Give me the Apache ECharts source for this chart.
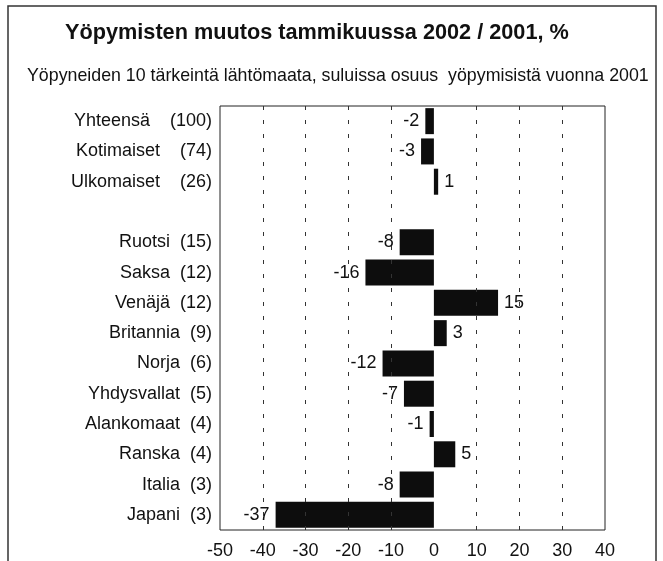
<!DOCTYPE html>
<html>
<head>
<meta charset="utf-8">
<script src="https://cdn.jsdelivr.net/npm/echarts@6/dist/echarts.min.js"></script>
<style>
html,body{margin:0;padding:0;background:#fff;}
#chart{width:663px;height:561px;}
</style>
</head>
<body>
<div id="chart"></div>
<script>
// Data
const titleText = 'Yöpymisten muutos tammikuussa 2002 / 2001, %';
const subtitleText = 'Yöpyneiden 10 tärkeintä lähtömaata, suluissa osuus  yöpymisistä vuonna 2001';
const names  = ['Yhteensä', 'Kotimaiset', 'Ulkomaiset', '', 'Ruotsi', 'Saksa', 'Venäjä', 'Britannia', 'Norja', 'Yhdysvallat', 'Alankomaat', 'Ranska', 'Italia', 'Japani'];
const shares = [100, 74, 26, null, 15, 12, 12, 9, 6, 5, 4, 4, 3, 3];
const values = [-2, -3, 1, null, -8, -16, 15, 3, -12, -7, -1, 5, -8, -37];
const xTicks = [-50, -40, -30, -20, -10, 0, 10, 20, 30, 40];
const gridLines = [-40, -30, -20, -10, 10, 20, 30];

const chart = echarts.init(document.getElementById('chart'), null, {renderer: 'canvas'});
const FONT = 'Liberation Sans, Arial, Helvetica, sans-serif';
const INK = '#111';

const categories = names.map((n, i) => i);
const seriesData = values.map(v => v === null ? '-' : {
  value: v,
  label: {position: v < 0 ? 'left' : 'right'}
});

chart.setOption({
  backgroundColor: '#fff',
  animation: false,
  title: [
    {text: titleText, left: 65, top: 22, padding: 0,
     textStyle: {fontFamily: FONT, fontSize: 21.7, fontWeight: 'bold', color: INK}},
    {text: subtitleText, left: 27, top: 67, padding: 0,
     textStyle: {fontFamily: FONT, fontSize: 17.8, fontWeight: 'normal', color: INK}}
  ],
  graphic: [
    {type: 'rect', shape: {x: 8, y: 6, width: 648, height: 600},
     style: {fill: 'none', stroke: '#333', lineWidth: 1.5}, silent: true, z: 100}
  ],
  grid: {left: 220, right: 58, top: 106, bottom: 31, show: true,
         borderColor: '#222', borderWidth: 1, backgroundColor: 'transparent'},
  xAxis: {
    type: 'value', min: xTicks[0], max: xTicks[xTicks.length - 1], interval: 10,
    axisLine: {show: false}, axisTick: {show: false}, splitLine: {show: false},
    axisLabel: {fontFamily: FONT, fontSize: 18, color: INK, margin: 12,
                formatter: v => xTicks.includes(v) ? String(v) : ''}
  },
  yAxis: {
    type: 'category', inverse: true, data: categories,
    axisLine: {show: false}, axisTick: {show: false}, splitLine: {show: false},
    axisLabel: {
      fontFamily: FONT, fontSize: 18, color: INK, margin: 8,
      formatter: (v, i) => {
        const idx = Number(v);
        if (!names[idx]) return '';
        const gap = idx < 3 ? '    ' : '  ';
        return names[idx] + gap + '(' + shares[idx] + ')';
      }
    }
  },
  series: [{
    type: 'bar',
    data: seriesData,
    barWidth: 26,
    itemStyle: {color: '#0d0d0d'},
    label: {show: true, fontFamily: FONT, fontSize: 18, color: INK, distance: 6},
    markLine: {
      silent: true, symbol: ['none', 'none'], label: {show: false},
      lineStyle: {type: [4, 10], color: '#333', width: 1},
      data: gridLines.map(v => ({xAxis: v}))
    }
  }]
});
</script>
</body>
</html>
